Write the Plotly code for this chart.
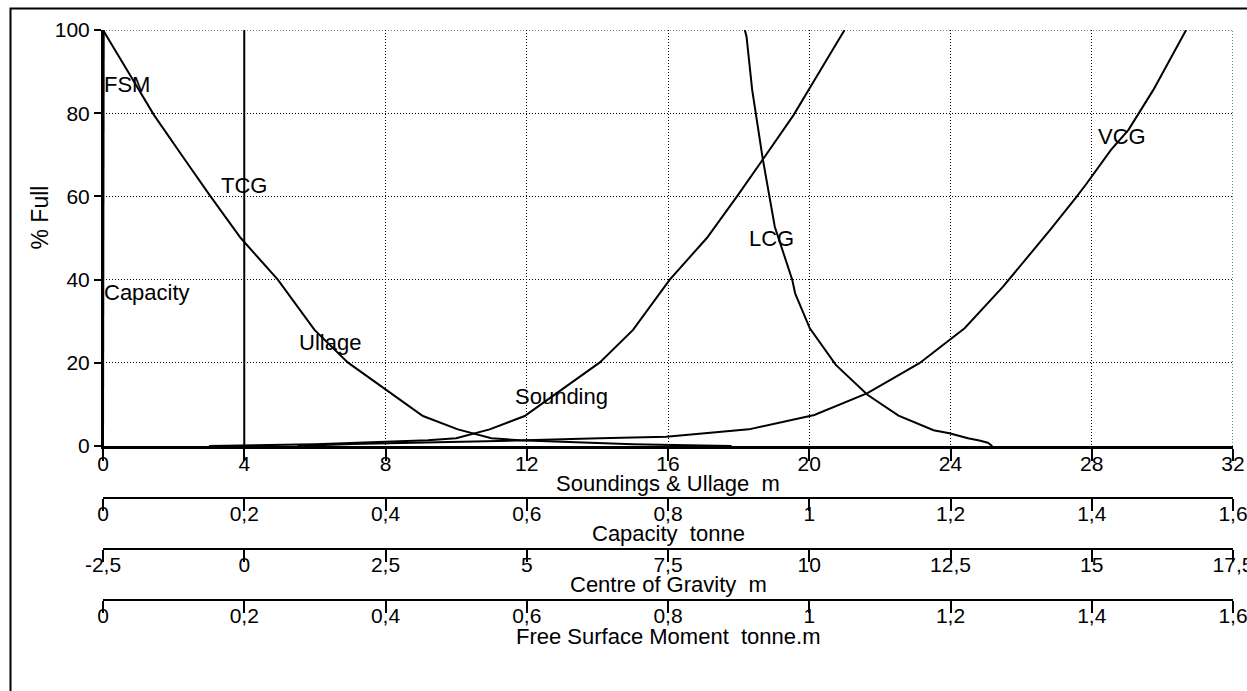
import plotly.graph_objects as go

# ---------------- data ----------------
# Sounding / Ullage (m) vs % full
sounding_pct = [0, 0.4, 1.0, 1.4, 1.85, 4.0, 7.2, 14.4, 20.1, 27.9, 40.0, 50.0, 60.3, 68.8, 79.6, 88.0, 98.4, 100]
sounding_m = [3.0, 6.0, 8.0, 9.2, 10.0, 10.95, 11.94, 13.12, 14.07, 15.01, 16.05, 17.1, 17.98, 18.68, 19.56, 20.15, 20.9, 21.0]
ullage_pct = [0, 0.4, 1.0, 1.4, 1.85, 4.0, 7.2, 14.4, 20.1, 27.9, 40.0, 50.0, 60.3, 68.8, 79.6, 88.0, 98.4, 100]
ullage_m = [17.8, 15.0, 13.0, 11.8, 11.0, 10.05, 9.06, 7.88, 6.93, 5.99, 4.95, 3.9, 3.02, 2.32, 1.44, 0.85, 0.1, 0.0]

# Capacity (tonne) vs % full
capacity_pct = [0, 100]
capacity_t = [0.0, 0.001]

# Centre of gravity (m) vs % full
lcg_pct = [0, 0.8, 1.3, 1.85, 3.05, 3.8, 7.3, 12.3, 19.5, 28.3, 36.7, 39.9, 52.7, 68.8, 85.6, 98.4, 100]
lcg_m = [13.24, 13.16, 13.01, 12.81, 12.48, 12.2, 11.58, 11.03, 10.47, 10.01, 9.75, 9.70, 9.39, 9.18, 8.99, 8.89, 8.86]
tcg_pct = [0, 100]
tcg_m = [0.0, 0.0]
vcg_pct = [0, 0.5, 1.3, 1.44, 1.85, 2.2, 2.9, 4.0, 7.45, 12.7, 19.9, 28.3, 38.3, 51.9, 59.9, 63.1, 71.2, 76.0, 85.6, 98.4, 100]
vcg_m = [0.94, 1.92, 4.81, 5.35, 6.29, 7.47, 8.06, 8.93, 10.09, 11.03, 11.95, 12.75, 13.43, 14.26, 14.73, 14.91, 15.34, 15.65, 16.09, 16.61, 16.67]

# Free surface moment (tonne.m) vs % full
fsm_pct = [0, 100]
fsm_tm = [0.0, 0.0]

# tick labels
cog_tickvals = [-2.5, 0, 2.5, 5, 7.5, 10, 12.5, 15, 17.5]
cog_ticktext = ["-2,5", "0", "2,5", "5", "7,5", "10", "12,5", "15", "17,5"]
tonne_tickvals = [0, 0.2, 0.4, 0.6, 0.8, 1.0, 1.2, 1.4, 1.6]
tonne_ticktext = ["0", "0,2", "0,4", "0,6", "0,8", "1", "1,2", "1,4", "1,6"]

# ---------------- geometry ----------------
W, H = 1247, 691
ML, MR, MT, MB = 103, 14, 30, 0
PH = H - MT - MB
PW = W - ML - MR


def py(px):  # pixel y -> paper y
    return (H - MB - px) / PH


def pxx(px):  # pixel x -> paper x
    return (px - ML) / PW


FONT = "Arial, Liberation Sans, sans-serif"
LINE = dict(color="black", width=2)

fig = go.Figure()
fig.add_trace(go.Scatter(x=capacity_t, y=capacity_pct, xaxis="x2", yaxis="y", mode="lines", line=LINE, name="Capacity"))
fig.add_trace(go.Scatter(x=fsm_tm, y=fsm_pct, xaxis="x4", yaxis="y", mode="lines", line=LINE, name="FSM"))
fig.add_trace(go.Scatter(x=tcg_m, y=tcg_pct, xaxis="x3", yaxis="y", mode="lines", line=LINE, name="TCG"))
fig.add_trace(go.Scatter(x=lcg_m, y=lcg_pct, xaxis="x3", yaxis="y", mode="lines", line=LINE, name="LCG"))
fig.add_trace(go.Scatter(x=vcg_m, y=vcg_pct, xaxis="x3", yaxis="y", mode="lines", line=LINE, name="VCG"))
fig.add_trace(go.Scatter(x=ullage_m, y=ullage_pct, xaxis="x", yaxis="y", mode="lines", line=LINE, name="Ullage"))
fig.add_trace(go.Scatter(x=sounding_m, y=sounding_pct, xaxis="x", yaxis="y", mode="lines", line=LINE, name="Sounding"))

common_x = dict(
    showline=True, linecolor="black", linewidth=2,
    ticks="outside", ticklen=12, tickwidth=1.5, tickcolor="black",
    tickfont=dict(family=FONT, size=21, color="black"),
    ticklabeloverflow="allow", ticklabelstandoff=-15,
    zeroline=False, automargin=False,
)

fig.update_layout(
    width=W, height=H, template="none", showlegend=False,
    margin=dict(l=ML, r=MR, t=MT, b=MB, pad=0),
    paper_bgcolor="white", plot_bgcolor="white",
    separators=",.",
    font=dict(family=FONT, size=21, color="black"),
    xaxis=dict(
        common_x, domain=[0, 1], anchor="y", range=[0, 32], tick0=0, dtick=4,
        linewidth=3,
        showgrid=True, gridcolor="black", gridwidth=1, griddash="1px,2px",
    ),
    xaxis2=dict(
        common_x, overlaying="x", anchor="free", position=py(497.5), range=[0, 1.6],
        tickmode="array", tickvals=tonne_tickvals, ticktext=tonne_ticktext,
        showgrid=False,
    ),
    xaxis3=dict(
        common_x, overlaying="x", anchor="free", position=py(549), range=[-2.5, 17.5],
        tickmode="array", tickvals=cog_tickvals, ticktext=cog_ticktext,
        showgrid=False,
    ),
    xaxis4=dict(
        common_x, overlaying="x", anchor="free", position=py(600), range=[0, 1.6],
        tickmode="array", tickvals=tonne_tickvals, ticktext=tonne_ticktext,
        showgrid=False,
    ),
    yaxis=dict(
        domain=[py(446), 1], anchor="x", range=[0, 100], tick0=0, dtick=20,
        showline=True, linecolor="black", linewidth=2,
        ticks="outside", ticklen=7, tickwidth=1.5, tickcolor="black",
        tickfont=dict(family=FONT, size=21, color="black"),
        ticklabeloverflow="allow",
        showgrid=True, gridcolor="black", gridwidth=1, griddash="1px,2px",
        zeroline=False, automargin=False,
    ),
)

# edge grid lines (plotly drops gridlines at the range ends)
GRID = dict(color="black", width=1, dash="1px,2px")
fig.add_shape(type="line", xref="x", yref="y", x0=32, x1=32, y0=0, y1=100, line=GRID, layer="below")
fig.add_shape(type="line", xref="x", yref="y", x0=0, x1=32, y0=100, y1=100, line=GRID, layer="below")

# outer frame (partially outside the viewport, as in the reference)
fig.add_shape(type="rect", xref="paper", yref="paper",
              x0=pxx(10.5), x1=1.05, y0=-0.05, y1=py(8.5),
              line=dict(color="black", width=2), fillcolor="rgba(0,0,0,0)", layer="above")

# axis titles
fig.add_annotation(text="% Full", xref="paper", yref="paper", x=pxx(39), y=py(217.5),
                   textangle=-90, showarrow=False, font=dict(family=FONT, size=23),
                   xanchor="center", yanchor="middle")
axis_titles = [
    ("Soundings & Ullage  m", 483),
    ("Capacity  tonne", 533),
    ("Centre of Gravity  m", 584),
    ("Free Surface Moment  tonne.m", 636),
]
for txt, ypx in axis_titles:
    fig.add_annotation(text=txt, xref="paper", yref="paper", x=0.5, y=py(ypx),
                       showarrow=False, xanchor="center", yanchor="middle",
                       font=dict(family=FONT, size=22), borderpad=0)

# curve labels
labels = [
    ("FSM", "x4", 0.0, 87.0, "left"),
    ("Capacity", "x2", 0.0, 36.8, "left"),
    ("TCG", "x3", 0.0, 62.7, "center"),
    ("LCG", "x3", 9.33, 50.0, "center"),
    ("VCG", "x3", 15.53, 74.3, "center"),
    ("Ullage", "x", 6.42, 24.8, "center"),
    ("Sounding", "x", 12.99, 12.0, "center"),
]
for txt, xr, xv, yv, xa in labels:
    fig.add_annotation(text=txt, xref=xr, yref="y", x=xv, y=yv, showarrow=False,
                       xanchor=xa, yanchor="middle", font=dict(family=FONT, size=22),
                       borderpad=0)

fig.write_html("out.html")
